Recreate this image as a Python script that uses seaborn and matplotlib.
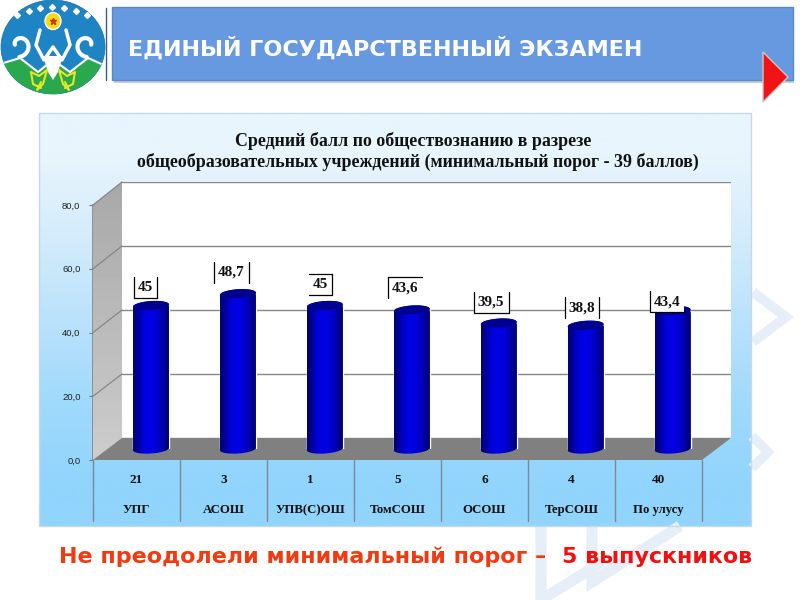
import numpy as np
import pandas as pd
import seaborn as sns
import matplotlib.pyplot as plt
from matplotlib.patches import Ellipse, Polygon, Rectangle

# chart data
schools = ['УПГ', 'АСОШ', 'УПВ(С)ОШ', 'ТомСОШ', 'ОСОШ', 'ТерСОШ', 'По улусу']
counts = ['21', '3', '1', '5', '6', '4', '40']
scores = [45, 48.7, 45, 43.6, 39.5, 38.8, 43.4]
score_labels = ['45', '48,7', '45', '43,6', '39,5', '38,8', '43,4']
y_ticks = [0, 20, 40, 60, 80]

title_lines = ['Средний балл по обществознанию в разрезе',
               'общеобразовательных учреждений (минимальный порог - 39 баллов)']
header = 'ЕДИНЫЙ ГОСУДАРСТВЕННЫЙ ЭКЗАМЕН'
footer_a = 'Не преодолели минимальный порог –'
footer_b = '5 выпускников'

# label box: offset from bar top in px, box width, which sides have a border
label_dx = [-5.5, -6.5, -4.5, -7, -7.5, -4, -5.5]
label_dy = [-18.5, -21.5, -21.5, -22.5, -21, -17.5, -9]
label_w = [23, 35, 23, 34, 35, 34, 34]
label_sides = ['lbr', 'lr', 'trb', 'lt', 'lbr', 'lr', 'lb']

sns.set_theme(style='white')
plt.rcParams['font.family'] = ['DejaVu Sans']
fig = plt.figure(figsize=(8, 6), dpi=100)


def px_axes(x0, y0, x1, y1, z):
    a = fig.add_axes([x0 / 800, 1 - y1 / 600, (x1 - x0) / 800, (y1 - y0) / 600], zorder=z)
    a.patch.set_alpha(0)
    return a


def page_axes(z):
    a = px_axes(0, 0, 800, 600, z)
    a.set_xlim(0, 800)
    a.set_ylim(600, 0)
    a.axis('off')
    return a


def to_px(ax, x, y):
    px, py = ax.transData.transform((x, y))
    return px, 600 - py


def tilted(cx, cy, rx, ry, a0, a1, deg=-4):
    t = np.radians(np.linspace(a0, a1, 40))
    r = np.radians(deg)
    ex, ey = rx * np.cos(t), ry * np.sin(t)
    return np.c_[cx + ex * np.cos(r) - ey * np.sin(r), cy + ex * np.sin(r) + ey * np.cos(r)]


# page background
bg = page_axes(0)
chev = '#e6eef8'
bg.plot([753, 786, 753], [292, 317, 342], color=chev, lw=7, solid_joinstyle='miter', solid_capstyle='butt')
bg.plot([752, 768, 752], [436, 452, 468], color=chev, lw=7, solid_joinstyle='miter', solid_capstyle='butt')
bg.plot([541, 541, 602], [526, 600, 562], color=chev, lw=8, solid_joinstyle='miter', solid_capstyle='butt')
bg.plot([592, 592, 680], [526, 582, 526], color=chev, lw=8, solid_joinstyle='miter', solid_capstyle='butt')

# logo
bg.add_patch(Ellipse((53, 47), 104, 94, fc='#1e84c4', ec='#1a6fa8', lw=0.5))
logo_clip = Ellipse((53, 47), 104, 94, transform=bg.transData)
hill = bg.add_patch(Polygon([[0, 80], [0, 64], [20, 58], [38, 72], [53, 60], [70, 72], [88, 58],
                             [106, 66], [106, 100], [0, 100]], fc='#2aa84e', ec='white', lw=1.5))
hill.set_clip_path(logo_clip)
bg.add_patch(Ellipse((53, 21), 16, 17, fc='#f6dc10', ec='white', lw=1))
bg.plot(53, 21, marker='*', color='#d03020', ms=5)
bg.plot([40, 36, 44, 53, 62, 70, 66], [30, 45, 60, 47, 60, 45, 30], color='white', lw=2.5)
bg.add_patch(Polygon([[43, 56], [63, 56], [58, 72], [53, 80], [48, 72]], fc='white', ec='none'))
for side in (-1, 1):
    cx = 53 + side * 34
    t = np.linspace(0, 4.6, 30)
    bg.plot(cx + side * (12 - 1.7 * t) * np.cos(t + 1.6), 45 + (12 - 1.7 * t) * np.sin(t + 1.6),
            color='white', lw=3)
    bg.plot(53 + side * np.array([6, 14, 22, 20, 12]), [70, 76, 72, 84, 88], color='#e8e820', lw=1.5)
    bg.plot(53 + side * np.array([6, 10, 16, 12]), [70, 84, 90, 82], color='#e8e820', lw=1.5)
for i in range(7):
    bg.plot(17 + i * 11.7, 15 - 8 * np.sin(np.pi * i / 6), 'D', color='white', ms=3)

# header bar
bg.plot([106, 106], [8, 80], color='#2f5f96', lw=1)
bg.add_patch(Rectangle((114, 11), 680, 72, fc='#c5cdd8', ec='none'))
bg.add_patch(Rectangle((112, 7), 681, 73, fc='#6699e0', ec='#5a88c8', lw=1))
bg.text(128, 48, header, color='white', fontsize=16, fontweight='bold', va='center', ha='left')
bg.add_patch(Polygon([[763, 52], [788, 77], [763, 102]], fc='#f21414', ec='#c9c9c9', lw=1))

# chart panel
panel = np.array([[232, 245, 253], [212, 236, 252], [186, 226, 251], [160, 218, 252], [145, 212, 252]]) / 255
bg.imshow(panel[:, None, :], extent=(39, 751, 526, 113), aspect='auto', interpolation='bilinear', zorder=1)
bg.set_xlim(0, 800)
bg.set_ylim(600, 0)
bg.add_patch(Rectangle((39, 113), 712, 413, fc='none', ec='#c8d8e6', lw=1, zorder=2))

for i, line in enumerate(title_lines):
    bg.text([413, 418][i], [141, 162][i], line, family='Liberation Serif', fontweight='bold',
            fontsize=12.9, color='#111111', ha='center', va='center', zorder=3)

# back wall
wall = px_axes(122, 182, 731, 438, 1)
wall.set_facecolor('white')
wall.patch.set_alpha(1)
wall.set_ylim(0, 80)
wall.set_yticks(y_ticks)
wall.set_xticks([])
wall.set_yticklabels([])
wall.grid(axis='y', color='#868686', lw=1)
wall.tick_params(left=False)
sns.despine(ax=wall, left=True, bottom=True, right=True, top=True)

# front scale
front = px_axes(93, 205, 702, 460, 1)
front.set_ylim(0, 80)
front.set_xlim(0, 1)
front.set_xticks([])
front.set_yticks(y_ticks)
front.set_yticklabels([f'{v:.1f}'.replace('.', ',') for v in y_ticks], fontsize=6.8,
                      family='Liberation Sans', color='#222222')
front.tick_params(axis='y', length=3, width=0.8, color='#777777', left=True, pad=6)
sns.despine(ax=front, left=False, bottom=True, right=True, top=True)
front.spines['left'].set_color('#868686')

walls = page_axes(1.5)
walls.imshow(np.linspace(0.66, 0.80, 50)[:, None], cmap='gray', vmin=0, vmax=1,
             extent=(93, 122, 460, 182), aspect='auto', clip_path=None)
walls.images[0].set_clip_path(Polygon([[93, 205], [122, 182], [122, 438], [93, 460]], transform=walls.transData))
walls.set_xlim(0, 800)
walls.set_ylim(600, 0)
walls.add_patch(Polygon([[93, 460], [122, 438], [731, 438], [702, 460]], fc='#808080', ec='none'))
for v in y_ticks[1:]:
    fx, fy = to_px(front, 0, v)
    wx, wy = to_px(wall, 0, v)
    walls.plot([fx, 122], [fy, wy], color='#868686', lw=0.9)

# table under the chart
table = px_axes(93, 460, 702, 521, 1)
table.set_xlim(-0.5, 6.5)
table.set_ylim(1, 0)
table.axis('off')
for i in range(8):
    table.plot([i - 0.5, i - 0.5], [0, 1], color='#7c8a98', lw=1, clip_on=False)
for i, (c, s) in enumerate(zip(counts, schools)):
    table.text(i, 0.33, c, family='Liberation Serif', fontweight='bold', fontsize=9.5, ha='center',
               va='center', color='#111111')
    table.text(i, 0.82, s, family='Liberation Serif', fontweight='bold', fontsize=9.2, ha='center',
               va='center', color='#111111')

# bars
ax = px_axes(107.5, 194, 716, 449, 2)
df = pd.DataFrame({'school': schools, 'score': scores})
sns.barplot(data=df, x='school', y='score', color='#0000c0', width=36 / 87, saturation=1, ax=ax)
ax.set_ylim(0, 80)
ax.set_xlim(-0.5, 6.5)
ax.axis('off')

top = page_axes(3)
grad = np.array([[0, 0, 125], [0, 0, 190], [0, 0, 225], [0, 0, 228], [0, 0, 215], [0, 0, 185], [0, 0, 125]]) / 255
for i, patch in enumerate(ax.patches[:len(scores)]):
    x0, y0 = to_px(ax, patch.get_x(), 0)
    x1, y1 = to_px(ax, patch.get_x() + patch.get_width(), patch.get_height())
    cx, rx = (x0 + x1) / 2, (x1 - x0) / 2
    outline = np.vstack([tilted(cx, y1, rx, 4.5, 180, 360), tilted(cx, y0, rx, 4.5, 0, 180)])
    im = top.imshow(grad[None, :, :], extent=(x0, x1, y0 + 8, y1 - 8), aspect='auto', interpolation='bilinear')
    im.set_clip_path(Polygon(outline, transform=top.transData))
    top.add_patch(Polygon(tilted(cx, y1, rx, 4.5, 0, 360), fc='#00008e', ec='none'))

    # value label
    lx, ly, w, h = cx + label_dx[i], y1 + label_dy[i], label_w[i], 21
    top.add_patch(Rectangle((lx - w / 2, ly - h / 2), w, h, fc='white', ec='none'))
    edge = {'l': ([lx - w / 2] * 2, [ly - h / 2, ly + h / 2]), 'r': ([lx + w / 2] * 2, [ly - h / 2, ly + h / 2]),
            't': ([lx - w / 2, lx + w / 2], [ly - h / 2] * 2), 'b': ([lx - w / 2, lx + w / 2], [ly + h / 2] * 2)}
    for s in label_sides[i]:
        top.plot(*edge[s], color='black', lw=0.9)
    top.text(lx, ly, score_labels[i], family='Liberation Serif', fontweight='bold', fontsize=11,
             ha='center', va='center', color='#111111')
top.set_xlim(0, 800)
top.set_ylim(600, 0)

# footer
bg.text(59, 557, footer_a, color='#f23a10', fontsize=16, fontweight='bold', va='center', ha='left', zorder=3)
bg.text(752, 557, footer_b, color='#f40f0f', fontsize=15.9, fontweight='bold', va='center', ha='right', zorder=3)

fig.savefig('out.png', dpi=100)
